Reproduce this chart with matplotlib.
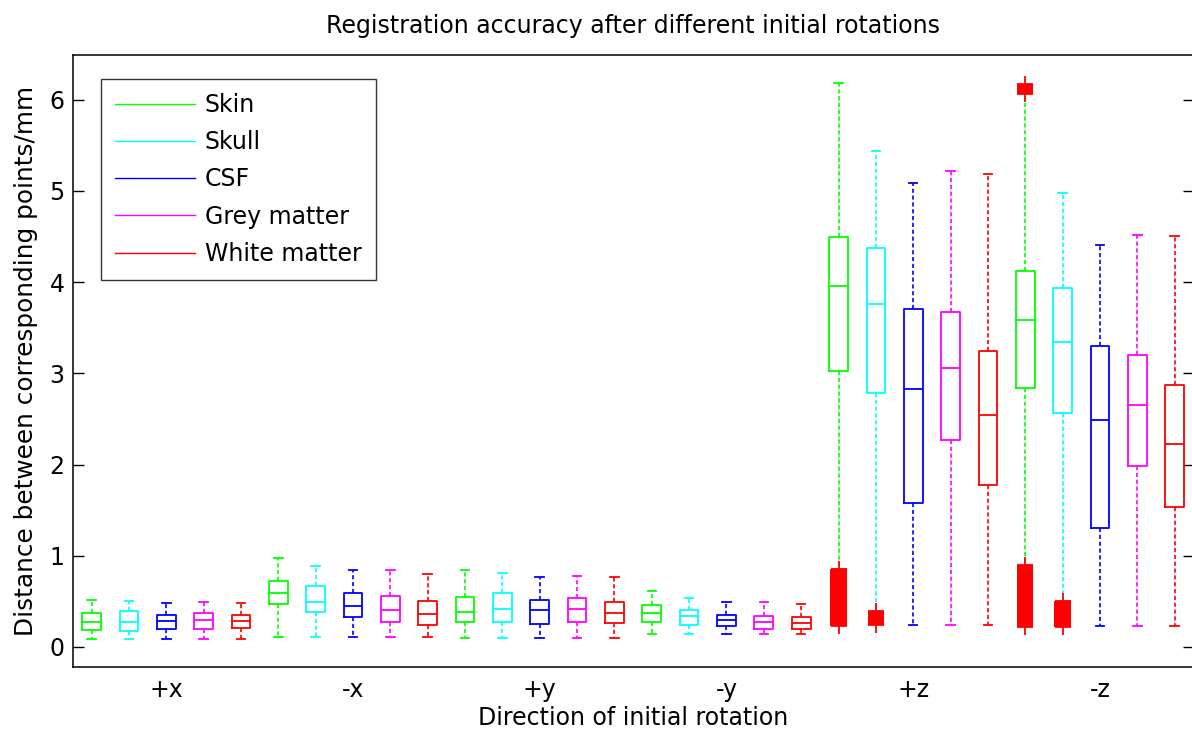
import matplotlib
matplotlib.use("Agg")
import matplotlib.pyplot as plt
from matplotlib.lines import Line2D

plt.rcParams['font.family'] = ['DejaVu Sans']

# Tissue classes and rotation directions
tissues = ["Skin", "Skull", "CSF", "Grey matter", "White matter"]
tissue_colors = ["#00ff00", "#00ffff", "#0000ff", "#ff00ff", "#ff0000"]
directions = ["+x", "-x", "+y", "-y", "+z", "-z"]

# Box statistics (mm), one entry per (direction, tissue), direction-major order
whisker_high = [0.515, 0.50, 0.485, 0.493, 0.485,
                0.97, 0.89, 0.84, 0.84, 0.80,
                0.84, 0.807, 0.77, 0.778, 0.767,
                0.613, 0.54, 0.49, 0.49, 0.474,
                6.186, 5.44, 5.083, 5.22, 5.19,
                6.07, 4.98, 4.41, 4.52, 4.51]
q3 = [0.37, 0.39, 0.354, 0.37, 0.35,
      0.72, 0.665, 0.588, 0.56, 0.50,
      0.55, 0.588, 0.52, 0.54, 0.497,
      0.46, 0.409, 0.347, 0.343, 0.325,
      4.49, 4.37, 3.70, 3.67, 3.25,
      4.12, 3.94, 3.30, 3.20, 2.87]
median = [0.27, 0.27, 0.285, 0.29, 0.288,
          0.59, 0.497, 0.45, 0.40, 0.36,
          0.383, 0.413, 0.405, 0.413, 0.376,
          0.372, 0.34, 0.29, 0.27, 0.26,
          3.96, 3.755, 2.83, 3.06, 2.54,
          3.58, 3.345, 2.49, 2.65, 2.22]
q1 = [0.186, 0.175, 0.197, 0.197, 0.208,
      0.467, 0.38, 0.332, 0.277, 0.245,
      0.27, 0.274, 0.248, 0.274, 0.26,
      0.277, 0.241, 0.23, 0.20, 0.194,
      3.03, 2.78, 1.58, 2.27, 1.77,
      2.84, 2.56, 1.30, 1.98, 1.53]
whisker_low = [0.088, 0.088, 0.088, 0.088, 0.088,
               0.113, 0.113, 0.113, 0.113, 0.113,
               0.095, 0.095, 0.095, 0.095, 0.095,
               0.146, 0.146, 0.146, 0.146, 0.146,
               0.85, 0.39, 0.245, 0.24, 0.24,
               0.89, 0.50, 0.23, 0.23, 0.23]

# Dense runs of outliers: (box index starting at 1, lowest value, highest value)
outlier_runs = [(21, 0.233, 0.855),
                (22, 0.238, 0.39),
                (26, 0.223, 0.895),
                (26, 6.066, 6.175),
                (27, 0.223, 0.50)]

n_t = len(tissues)
positions = list(range(1, len(median) + 1))
FS = 17

fig = plt.figure(figsize=(11.92, 7.35), dpi=100)
ax = fig.add_axes([73 / 1192, 1 - 667 / 735, 1121 / 1192, 612 / 735])

stats = []
for i in range(len(median)):
    stats.append(dict(med=median[i], q1=q1[i], q3=q3[i],
                      whislo=whisker_low[i], whishi=whisker_high[i], fliers=[]))

art = ax.bxp(stats, positions=positions, widths=0.5, capwidths=0.23,
             showfliers=False, manage_ticks=False,
             boxprops=dict(linewidth=1.3),
             medianprops=dict(linewidth=1.3),
             whiskerprops=dict(linewidth=1.2, linestyle=(0, (2.5, 1.6))),
             capprops=dict(linewidth=1.3))

for i in range(len(median)):
    c = tissue_colors[i % n_t]
    art['boxes'][i].set_color(c)
    art['medians'][i].set_color(c)
    for k in (2 * i, 2 * i + 1):
        art['whiskers'][k].set_color(c)
        art['caps'][k].set_color(c)

# Outliers: red '+' markers packed so tightly they merge into a solid bar
for pos, lo, hi in outlier_runs:
    ax.bar(pos, hi - lo, bottom=lo, width=0.44, color="#ff0000",
           linewidth=0, zorder=4)
    ax.plot([pos, pos], [lo, hi], linestyle="none", marker="+",
            markersize=11.5, markeredgewidth=1.3, color="#ff0000", zorder=5)

ax.set_xlim(0.5, 30.52)
ax.set_ylim(-0.22, 6.49)

ax.set_yticks(range(0, 7))
ax.set_xticks([n_t * g + 3 for g in range(len(directions))])
ax.set_xticklabels(directions)
ax.tick_params(axis='y', direction='in', length=8, width=1, right=True,
               labelsize=FS, pad=6)
ax.tick_params(axis='x', length=0, labelsize=FS, pad=8)

for s in ax.spines.values():
    s.set_linewidth(1.1)

ax.set_title("Registration accuracy after different initial rotations",
             fontsize=FS, pad=16)
ax.set_xlabel("Direction of initial rotation", fontsize=FS)
ax.set_ylabel("Distance between corresponding points/mm", fontsize=17.8)
ax.xaxis.set_label_coords(0.5, -0.063)
ax.yaxis.set_label_coords(-0.031, 0.5)

handles = [Line2D([], [], color=c, linewidth=1.0) for c in tissue_colors]
leg = ax.legend(handles, tissues, loc='upper left',
                bbox_to_anchor=(0.025, 0.961), borderaxespad=0,
                fontsize=FS, frameon=True, fancybox=False,
                handlelength=3.4, handletextpad=0.4, labelspacing=0.56,
                borderpad=0.6)
leg.get_frame().set_edgecolor("black")
leg.get_frame().set_linewidth(1.0)

fig.savefig("out.png", dpi=100)
